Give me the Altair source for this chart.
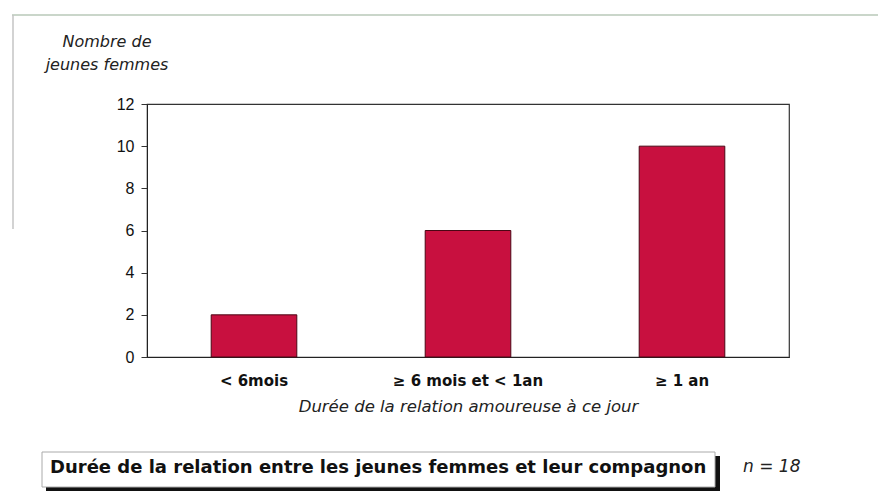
import altair as alt
import pandas as pd

categories = ["< 6mois", "≥ 6 mois et < 1an", "≥ 1 an"]
counts = [2, 6, 10]
y_ticks = [0, 2, 4, 6, 8, 10, 12]

y_title_lines = ["Nombre de", "jeunes femmes"]
x_title = "Durée de la relation amoureuse à ce jour"
caption = "Durée de la relation entre les jeunes femmes et leur compagnon"
n_note = "n = 18"

df = pd.DataFrame({"cat": categories, "n": counts})

FONT = "Liberation Sans"
WIDE = "DejaVu Sans"
BAR = "#C8103F"

bars = alt.Chart(df).mark_bar(color=BAR, stroke="#4a0614", strokeWidth=1).encode(
    x=alt.X(
        "cat:N",
        sort=None,
        scale=alt.Scale(paddingInner=0.6, paddingOuter=0.3),
        axis=alt.Axis(
            title=x_title,
            titleFont=WIDE,
            titleFontStyle="italic",
            titleFontWeight="normal",
            titleFontSize=16.5,
            titleColor="#222",
            titlePadding=10,
            labelFont=WIDE,
            labelFontWeight="bold",
            labelFontSize=15,
            labelColor="#111",
            labelAngle=0,
            labelPadding=16,
            ticks=False,
            domain=True,
            domainColor="#222",
        ),
    ),
    y=alt.Y(
        "n:Q",
        scale=alt.Scale(domain=[0, 12]),
        axis=alt.Axis(
            title=None,
            values=y_ticks,
            grid=False,
            tickSize=6,
            tickColor="#333",
            domainColor="#222",
            labelFont=FONT,
            labelFontSize=16,
            labelColor="#111",
            labelPadding=7,
        ),
    ),
)

# y title (two lines, above the axis)
ytitle = alt.Chart(pd.DataFrame({"t": [y_title_lines]})).mark_text(
    font=WIDE, fontStyle="italic", fontSize=16, color="#222",
    align="center", baseline="middle", lineHeight=23,
).encode(text="t:N", x=alt.value(-40), y=alt.value(-62))

# page frame lines
frame_top = alt.Chart(pd.DataFrame({"a": [0]})).mark_rule(color="#b9c9b9", strokeWidth=1.5).encode(
    x=alt.value(-135), x2=alt.value(731), y=alt.value(-89)
)
frame_left = alt.Chart(pd.DataFrame({"a": [0]})).mark_rule(color="#c4c4c4", strokeWidth=1.5).encode(
    x=alt.value(-134), y=alt.value(-89), y2=alt.value(125)
)

# caption box with shadow
shadow = alt.Chart(pd.DataFrame({"a": [0]})).mark_rect(color="#111").encode(
    x=alt.value(-101), x2=alt.value(573), y=alt.value(352), y2=alt.value(387)
)
box = alt.Chart(pd.DataFrame({"a": [0]})).mark_rect(
    fill="white", stroke="#aaa", strokeWidth=1
).encode(
    x=alt.value(-105), x2=alt.value(568), y=alt.value(348), y2=alt.value(383)
)
cap = alt.Chart(pd.DataFrame({"t": [caption]})).mark_text(
    font=WIDE, fontWeight="bold", fontSize=18, color="#111",
    align="left", baseline="middle",
).encode(text="t:N", x=alt.value(-97), y=alt.value(364))
note = alt.Chart(pd.DataFrame({"t": [n_note]})).mark_text(
    font=WIDE, fontStyle="italic", fontSize=17, color="#222",
    align="left", baseline="middle",
).encode(text="t:N", x=alt.value(596), y=alt.value(363))

chart = alt.layer(
    frame_top, frame_left, bars, ytitle, shadow, box, cap, note
).properties(
    width=642,
    height=253,
    autosize=alt.AutoSizeParams(type="none"),
    padding={"left": 139, "top": 96, "right": 89, "bottom": 139},
    background="white",
).configure_view(
    stroke="#333", strokeWidth=1.2
)

chart.save("out.html", embed_options={"renderer": "svg", "actions": False})
